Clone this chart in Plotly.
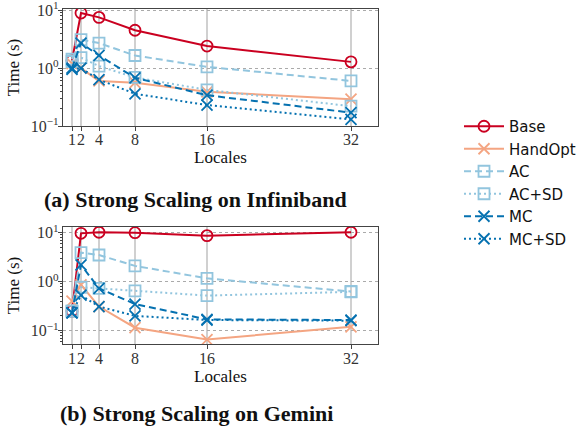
import plotly.graph_objects as go

locales = [1, 2, 4, 8, 16, 32]
series_names = ["Base", "HandOpt", "AC", "AC+SD", "MC", "MC+SD"]

# Infiniband (top panel), time in seconds
ib_base = [1.35, 8.9, 7.5, 4.5, 2.4, 1.28]
ib_handopt = [1.2, 1.0, 0.6, 0.56, 0.39, 0.29]
ib_ac = [1.42, 3.1, 2.7, 1.65, 1.05, 0.6]
ib_acsd = [1.3, 1.52, 1.08, 0.69, 0.42, 0.22]
ib_mc = [1.0, 2.7, 1.65, 0.68, 0.34, 0.17]
ib_mcsd = [0.95, 1.0, 0.63, 0.36, 0.23, 0.13]

# Gemini (bottom panel), time in seconds
gm_base = [0.25, 9.7, 10.2, 10.0, 8.7, 10.2]
gm_handopt = [0.4, 0.86, 0.31, 0.115, 0.066, 0.12]
gm_ac = [0.25, 3.9, 3.5, 2.1, 1.17, 0.63]
gm_acsd = [0.25, 0.77, 0.73, 0.65, 0.52, 0.62]
gm_mc = [0.23, 2.2, 0.73, 0.35, 0.17, 0.165]
gm_mcsd = [0.23, 0.53, 0.31, 0.2, 0.165, 0.16]

ytick_vals = [0.1, 1, 10]
ytick_text = ["10<sup>\u22121</sup>", "10<sup>0</sup>", "10<sup>1</sup>"]

RED = "#ca0020"
ORANGE = "#f4a582"
LBLUE = "#92c5de"
DBLUE = "#0571b0"

styles = {
    "Base": dict(color=RED, dash="solid", symbol="circle-open"),
    "HandOpt": dict(color=ORANGE, dash="solid", symbol="x-thin-open"),
    "AC": dict(color=LBLUE, dash="7px,4px", symbol="square-open"),
    "AC+SD": dict(color=LBLUE, dash="2px,3px", symbol="square-open"),
    "MC": dict(color=DBLUE, dash="7px,4px", symbol="x-thin-open"),
    "MC+SD": dict(color=DBLUE, dash="2px,3px", symbol="x-thin-open"),
}

top_data = [ib_base, ib_handopt, ib_ac, ib_acsd, ib_mc, ib_mcsd]
bot_data = [gm_base, gm_handopt, gm_ac, gm_acsd, gm_mc, gm_mcsd]

fig = go.Figure()
for panel, data in enumerate([top_data, bot_data]):
    xa = "x" if panel == 0 else "x2"
    ya = "y" if panel == 0 else "y2"
    for name, vals in zip(series_names, data):
        st = styles[name]
        fig.add_trace(go.Scatter(
            x=locales, y=vals, name=name, mode="lines+markers",
            xaxis=xa, yaxis=ya, showlegend=(panel == 0),
            line=dict(color=st["color"], width=2, dash=st["dash"]),
            marker=dict(symbol=st["symbol"], size=11, color=st["color"],
                        line=dict(color=st["color"], width=1.8)),
        ))

serif = "Liberation Serif"
axis_common = dict(
    showline=True, mirror=True, linecolor="#444", linewidth=1.2,
    ticks="outside", ticklen=4, tickcolor="#444",
    tickfont=dict(family=serif, size=16, color="#333"),
    zeroline=False, automargin=False, ticklabeloverflow="allow",
)
xcommon = dict(axis_common, range=[0, 35], tickmode="array", tickvals=locales,
               ticktext=[str(v) for v in locales], tickangle=0, ticklabelstandoff=-5,
               showgrid=True, gridcolor="#d0d0d0", gridwidth=1.5,
               title=dict(text="Locales", font=dict(family=serif, size=17, color="#111"), standoff=2))
ycommon = dict(axis_common, type="log", tickmode="array", tickvals=ytick_vals, ticktext=ytick_text,
               ticklabelstandoff=-4,
               showgrid=True, gridcolor="#aaaaaa", gridwidth=1, griddash="dot",
               minor=dict(ticks="outside", ticklen=2, tickcolor="#444", showgrid=False,
                          tickmode="array",
                          tickvals=[k * 10 ** e for e in (-2, -1, 0, 1) for k in range(2, 10)]),
               title=dict(text="Time (s)", font=dict(family=serif, size=17, color="#111"), standoff=6))

fig.update_layout(
    width=579, height=434,
    margin=dict(l=0, r=0, t=0, b=0, autoexpand=False),
    paper_bgcolor="white", plot_bgcolor="white",
    xaxis=dict(xcommon, domain=[63 / 579, 378 / 579], anchor="y"),
    yaxis=dict(ycommon, domain=[1 - 126 / 434, 1 - 9 / 434], range=[-1, 1.02], anchor="x"),
    xaxis2=dict(xcommon, domain=[63 / 579, 378 / 579], anchor="y2"),
    yaxis2=dict(ycommon, domain=[1 - 344.3 / 434, 1 - 226.7 / 434], range=[-1.278, 1.122], anchor="x2"),
    legend=dict(x=459 / 579, y=1 - 110 / 434, xanchor="left", yanchor="top",
                font=dict(family="DejaVu Sans", size=15, color="#111"),
                bgcolor="rgba(0,0,0,0)", itemwidth=40, tracegroupgap=0),
    showlegend=True,
)

fig.add_annotation(text="<b>(a) Strong Scaling on Infiniband</b>", x=195.5 / 579, y=1 - 199 / 434,
                   xref="paper", yref="paper", showarrow=False, xanchor="center", yanchor="middle",
                   font=dict(family=serif, size=22, color="#111"))
fig.add_annotation(text="<b>(b) Strong Scaling on Gemini</b>", x=196 / 579, y=1 - 413 / 434,
                   xref="paper", yref="paper", showarrow=False, xanchor="center", yanchor="middle",
                   font=dict(family=serif, size=22, color="#111"))

fig.write_html("out.html", config={"displayModeBar": False},
               post_script="document.body.style.margin='0';")
